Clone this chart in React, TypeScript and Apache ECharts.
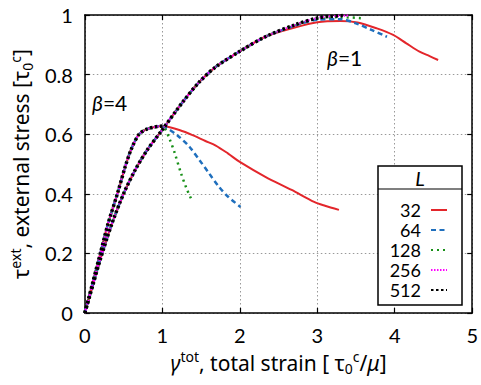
import React, { useEffect, useRef } from "react";
import * as echarts from "echarts";

// ---- data ----
const sizes = ["32", "64", "128", "256", "512"];
const colors = ["#e3262b", "#1f6fbd", "#189018", "#ff00ff", "#000000"];

// beta = 4 family
const beta4Rise: number[][] = [
  [0, 0], [0.1, 0.1], [0.2, 0.2], [0.3, 0.3], [0.42, 0.4], [0.52, 0.49],
  [0.6, 0.55], [0.7, 0.6], [0.8, 0.617], [0.9, 0.624], [0.97, 0.627],
];
const beta4Tail32: number[][] = [
  [1.05, 0.626], [1.22, 0.614], [1.39, 0.597], [1.55, 0.578], [1.69, 0.562],
  [1.85, 0.535], [2.0, 0.507], [2.33, 0.457], [2.67, 0.413], [2.96, 0.373],
  [3.1, 0.36], [3.28, 0.346],
];
const beta4Tail64: number[][] = [
  [1.05, 0.622], [1.2, 0.595], [1.35, 0.558], [1.48, 0.513], [1.6, 0.47],
  [1.73, 0.424], [1.85, 0.39], [2.01, 0.356],
];
const beta4Tail128: number[][] = [
  [1.03, 0.62], [1.1, 0.58], [1.16, 0.537], [1.24, 0.47], [1.31, 0.42], [1.38, 0.379],
];
const beta4Tail256: number[][] = [[1.0, 0.628]];
const beta4Tail512: number[][] = [[1.02, 0.628]];

// beta = 1 family
const beta1Rise: number[][] = [
  [0, 0], [0.1, 0.09], [0.2, 0.18], [0.35, 0.3], [0.5, 0.4], [0.65, 0.48],
  [0.8, 0.545], [1.0, 0.615], [1.27, 0.71], [1.48, 0.776], [1.69, 0.826],
  [2.0, 0.878], [2.33, 0.927],
];
const beta1Tail32: number[][] = [
  [2.71, 0.958], [3.0, 0.976], [3.3, 0.98], [3.52, 0.975], [3.77, 0.955],
  [3.98, 0.933], [4.15, 0.905], [4.32, 0.877], [4.45, 0.862], [4.56, 0.849],
];
const beta1Tail64: number[][] = [
  [2.71, 0.964], [3.0, 0.984], [3.3, 0.986], [3.5, 0.972], [3.7, 0.95], [3.9, 0.927],
];
const beta1Tail128: number[][] = [
  [2.71, 0.966], [3.0, 0.988], [3.3, 0.993], [3.58, 0.989],
];
const beta1Tail256: number[][] = [
  [2.71, 0.966], [3.0, 0.99], [3.2, 0.996], [3.41, 0.998],
];
const beta1Tail512: number[][] = [
  [2.71, 0.967], [3.0, 0.99], [3.2, 0.996], [3.33, 0.998],
];

const xTicks = [0, 1, 2, 3, 4, 5];
const yTicks = [0, 0.2, 0.4, 0.6, 0.8, 1];

const beta4Tails = [beta4Tail32, beta4Tail64, beta4Tail128, beta4Tail256, beta4Tail512];
const beta1Tails = [beta1Tail32, beta1Tail64, beta1Tail128, beta1Tail256, beta1Tail512];

const lineStyles: any[] = [
  { width: 2, type: "solid" },
  { width: 2.5, type: [5, 3.5] },
  { width: 2.5, type: [2, 4] },
  { width: 2.2, type: [1.5, 1.5] },
  { width: 3.5, type: [2.5, 2.5] },
];

const FONT = "Lato";
const NAMEFONT = "Noto Sans";

export default function App() {
  const ref = useRef<HTMLDivElement>(null);
  useEffect(() => {
    if (!ref.current) return;
    const chart = echarts.init(ref.current, undefined, { renderer: "svg" });
    const series: any[] = [];
    sizes.forEach((s, i) => {
      [beta4Rise.concat(beta4Tails[i]), beta1Rise.concat(beta1Tails[i])].forEach((d) => {
        series.push({
          type: "line",
          name: s,
          data: d,
          showSymbol: false,
          symbol: "none",
          smooth: 0.3,
          z: 2 + i,
          color: colors[i],
          lineStyle: { color: colors[i], ...lineStyles[i] },
        });
      });
    });
    const axisCommon = {
      axisLine: { show: true, onZero: false, lineStyle: { color: "#000", width: 1.5 } },
      axisTick: { show: true, inside: true, length: 5, lineStyle: { color: "#000", width: 1.2 } },
      splitLine: { show: false },
    };
    const rich = {
      i: { fontFamily: NAMEFONT, fontSize: 21, fontStyle: "italic", color: "#000" },
      n: { fontFamily: NAMEFONT, fontSize: 21, color: "#000" },
      sup: { fontFamily: NAMEFONT, fontSize: 14, color: "#000", verticalAlign: "top", lineHeight: 26, padding: [0, 0, 9, 0] },
      sub: { fontFamily: NAMEFONT, fontSize: 14, color: "#000", verticalAlign: "bottom", lineHeight: 26, padding: [9, 0, 0, 0] },
    };
    chart.setOption({
      animation: false,
      backgroundColor: "#fff",
      grid: { left: 84, right: 5, top: 15, bottom: 72 },
      xAxis: [
        {
          type: "value",
          min: xTicks[0],
          max: xTicks[xTicks.length - 1],
          interval: 1,
          position: "bottom",
          ...axisCommon,
          splitLine: { show: true, lineStyle: { color: "#999", type: [1.5, 2.5], width: 1 } },
          axisLabel: { fontFamily: FONT, fontSize: 20, color: "#000", margin: 12 },
          name: "{i|γ}{sup|tot}{n|, total strain [ }{n|τ}{sub|0}{sup|c}{n|/}{i|μ}{n|]}",
          nameLocation: "middle",
          nameGap: 35,
          nameTextStyle: { rich },
        },
        {
          type: "value",
          min: xTicks[0],
          max: xTicks[xTicks.length - 1],
          interval: 1,
          position: "top",
          ...axisCommon,
          axisLabel: { show: false },
        },
      ],
      yAxis: [
        {
          type: "value",
          min: yTicks[0],
          max: yTicks[yTicks.length - 1],
          interval: 0.2,
          position: "left",
          ...axisCommon,
          splitLine: { show: true, lineStyle: { color: "#999", type: [1.5, 2.5], width: 1 } },
          axisLabel: { fontFamily: FONT, fontSize: 20, color: "#000", margin: 12 },
          name: "{n|τ}{sup|ext}{n|, external stress [}{n|τ}{sub|0}{sup|c}{n|]}",
          nameLocation: "middle",
          nameRotate: 90,
          nameGap: 44,
          nameTextStyle: { rich },
        },
        {
          type: "value",
          min: yTicks[0],
          max: yTicks[yTicks.length - 1],
          interval: 0.2,
          position: "right",
          ...axisCommon,
          axisLabel: { show: false },
        },
      ],
      legend: {
        data: sizes,
        orient: "vertical",
        left: 378,
        top: 195,
        align: "right",
        itemGap: 0,
        itemWidth: 16,
        itemHeight: 10,
        z: 10,
        selectedMode: false,
        itemStyle: { opacity: 0, borderWidth: 0 },
        textStyle: { fontFamily: FONT, fontSize: 18, lineHeight: 20, color: "#000", width: 38, align: "right", padding: [0, 5, 0, 0] },
      },
      graphic: [
        {
          type: "rect",
          z: 5,
          shape: { x: 378, y: 166, width: 84, height: 139 },
          style: { fill: "#fff", stroke: "#000", lineWidth: 1.5 },
        },
        {
          type: "line",
          z: 6,
          shape: { x1: 378, y1: 189, x2: 462, y2: 189 },
          style: { stroke: "#000", lineWidth: 1.2 },
        },
        {
          type: "text",
          z: 6,
          x: 420,
          y: 178,
          style: { text: "L", fontFamily: FONT, fontSize: 20, fontStyle: "italic", fill: "#000", align: "center", verticalAlign: "middle" },
        },
        {
          type: "text",
          z: 6,
          x: 92,
          y: 102,
          style: {
            text: "{b|β}{c|=4}",
            verticalAlign: "middle",
            rich: {
              b: { fontFamily: FONT, fontSize: 21, fontStyle: "italic", fill: "#000" },
              c: { fontFamily: FONT, fontSize: 21, fill: "#000" },
            },
          },
        },
        {
          type: "text",
          z: 6,
          x: 327,
          y: 57,
          style: {
            text: "{b|β}{c|=1}",
            verticalAlign: "middle",
            rich: {
              b: { fontFamily: FONT, fontSize: 21, fontStyle: "italic", fill: "#000" },
              c: { fontFamily: FONT, fontSize: 21, fill: "#000" },
            },
          },
        },
      ],
      series,
    });
    return () => chart.dispose();
  }, []);
  return (
    <div
      ref={ref}
      style={{ position: "absolute", left: 0, top: 0, width: 481, height: 385 }}
    />
  );
}
